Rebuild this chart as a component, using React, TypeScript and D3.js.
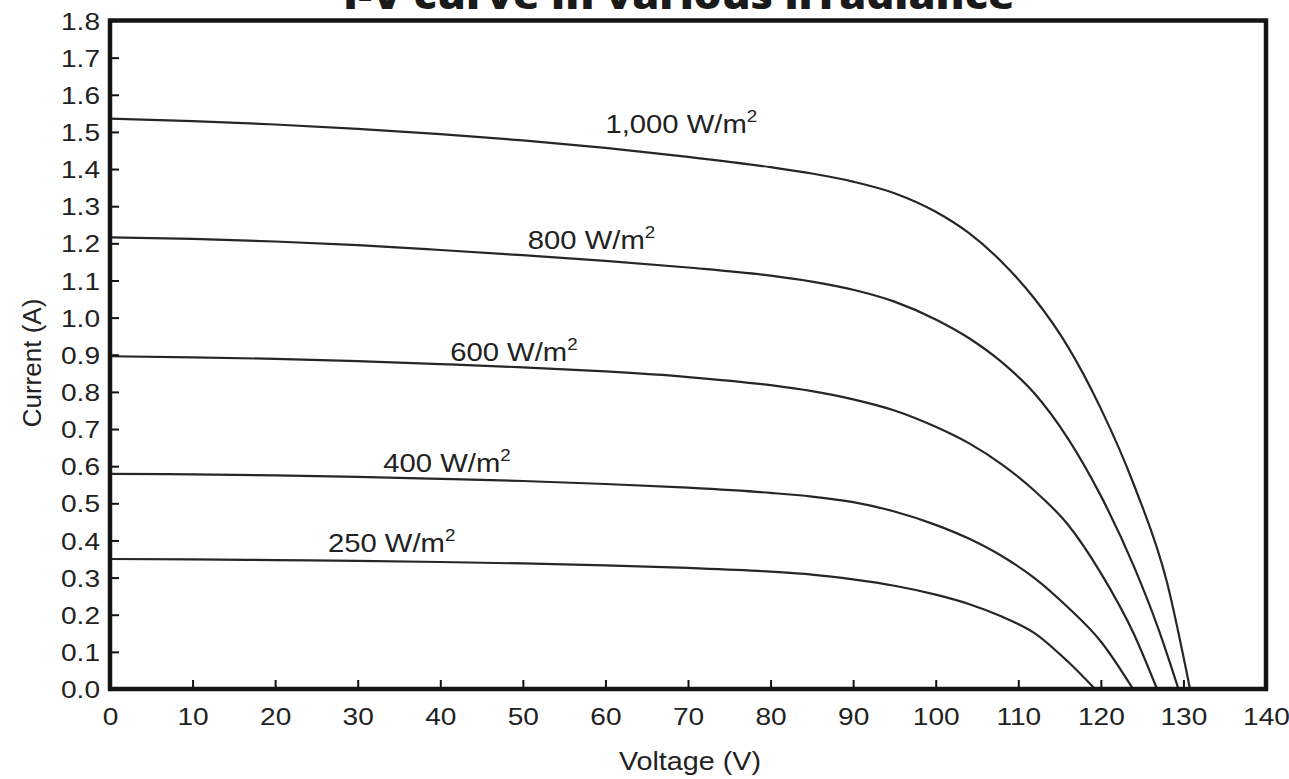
import React, { useEffect, useRef } from "react";
import {
  select,
  scaleLinear,
  axisBottom,
  axisLeft,
  line,
  curveMonotoneX,
  format,
} from "d3";

// tick values
const voltageTicks = [0, 10, 20, 30, 40, 50, 60, 70, 80, 90, 100, 110, 120, 130, 140];
const currentTicks = [0, 0.1, 0.2, 0.3, 0.4, 0.5, 0.6, 0.7, 0.8, 0.9, 1.0, 1.1, 1.2, 1.3, 1.4, 1.5, 1.6, 1.7, 1.8];

// I-V points [voltage, current]
const curve1000: [number, number][] = [
  [0, 1.536], [10, 1.529], [20, 1.52], [30, 1.508], [40, 1.494], [50, 1.477],
  [60, 1.457], [70, 1.433], [80, 1.405], [85, 1.388], [90, 1.366],
  [95, 1.335], [100, 1.285], [104, 1.228], [108, 1.15], [112, 1.05],
  [116, 0.922], [120, 0.755], [124, 0.55], [128, 0.288], [130.8, 0],
];
const curve800: [number, number][] = [
  [0, 1.216], [10, 1.212], [20, 1.205], [30, 1.195], [40, 1.182], [50, 1.168],
  [60, 1.153], [70, 1.135], [80, 1.113], [85, 1.097], [90, 1.075],
  [95, 1.043], [100, 0.995], [104, 0.945], [108, 0.88], [112, 0.795],
  [116, 0.675], [120, 0.52], [124, 0.33], [127, 0.16], [129.4, 0],
];
const curve600: [number, number][] = [
  [0, 0.896], [10, 0.893], [20, 0.889], [30, 0.883], [40, 0.875], [50, 0.866],
  [60, 0.855], [70, 0.84], [80, 0.818], [85, 0.802], [90, 0.78],
  [95, 0.75], [100, 0.706], [104, 0.662], [108, 0.605], [112, 0.533],
  [116, 0.443], [120, 0.312], [124, 0.148], [126.8, 0],
];
const curve400: [number, number][] = [
  [0, 0.579], [10, 0.578], [20, 0.575], [30, 0.571], [40, 0.566], [50, 0.56],
  [60, 0.552], [70, 0.542], [80, 0.528], [85, 0.518], [90, 0.503],
  [95, 0.478], [100, 0.442], [104, 0.405], [108, 0.358], [112, 0.298],
  [116, 0.22], [120, 0.128], [123.9, 0],
];
const curve250: [number, number][] = [
  [0, 0.35], [10, 0.349], [20, 0.347], [30, 0.345], [40, 0.342], [50, 0.338],
  [60, 0.333], [70, 0.326], [80, 0.316], [85, 0.308], [90, 0.295],
  [95, 0.278], [100, 0.254], [104, 0.229], [108, 0.195], [112, 0.15],
  [116, 0.074], [119.3, 0],
];

const curves = [curve1000, curve800, curve600, curve400, curve250];
const irradianceLabels = ["1,000", "800", "600", "400", "250"];
// where each label starts, in [voltage, current]
const labelAnchors: [number, number][] = [
  [60, 1.496], [50.6, 1.186], [41.2, 0.884], [33.1, 0.585], [26.4, 0.369],
];

const WIDTH = 1289;
const HEIGHT = 779;
const FONT = "'Liberation Sans', Arial, sans-serif";
const SX = 1.17; // the source text is a bit wide

const App: React.FC = () => {
  const svgRef = useRef<SVGSVGElement>(null);

  useEffect(() => {
    const svg = select(svgRef.current);
    svg.selectAll("*").remove();

    const x = scaleLinear().domain([0, 140]).range([110, 1266]);
    const y = scaleLinear().domain([0, 1.8]).range([689, 20.5]);

    // title, cut off at the top like the source
    svg
      .append("text")
      .attr("x", 679)
      .attr("y", 9)
      .attr("text-anchor", "middle")
      .attr("font-family", "'Open Sans', sans-serif")
      .attr("font-weight", 800)
      .attr("font-size", 38)
      .attr("textLength", 672)
      .attr("lengthAdjust", "spacingAndGlyphs")
      .attr("fill", "#1a1a1a")
      .text("I-V curve in various irradiance");

    const gen = line<[number, number]>()
      .x((d) => x(d[0]))
      .y((d) => y(d[1]))
      .curve(curveMonotoneX);

    svg
      .append("g")
      .selectAll("path")
      .data(curves)
      .join("path")
      .attr("d", (d) => gen(d))
      .attr("fill", "none")
      .attr("stroke", "#262626")
      .attr("stroke-width", 2.2);

    // curve labels
    const labels = svg
      .append("g")
      .selectAll("text")
      .data(irradianceLabels)
      .join("text")
      .attr(
        "transform",
        (d, i) => `translate(${x(labelAnchors[i][0])},${y(labelAnchors[i][1])}) scale(${SX},1)`
      )
      .attr("font-family", FONT)
      .attr("font-size", 25)
      .attr("fill", "#222");
    labels.append("tspan").text((d) => `${d} W/m`);
    labels.append("tspan").attr("dy", -11).attr("font-size", 16).text("2");

    // bottom axis
    const xAxis = svg
      .append("g")
      .attr("transform", "translate(0,689)")
      .call(axisBottom(x).tickValues(voltageTicks).tickSize(-9).tickFormat(format("d")));
    xAxis.select(".domain").remove();
    xAxis.selectAll(".tick line").attr("stroke", "#111").attr("stroke-width", 2);
    xAxis
      .selectAll(".tick text")
      .attr("y", 36)
      .attr("dy", 0)
      .attr("transform", `scale(${SX},1)`)
      .attr("font-family", FONT)
      .attr("font-size", 24)
      .attr("fill", "#222");

    // left axis
    const yAxis = svg
      .append("g")
      .attr("transform", "translate(110,0)")
      .call(axisLeft(y).tickValues(currentTicks).tickSize(-9).tickFormat(format(".1f")));
    yAxis.select(".domain").remove();
    yAxis.selectAll(".tick line").attr("stroke", "#111").attr("stroke-width", 2);
    yAxis
      .selectAll(".tick text")
      .attr("x", -10 / SX)
      .attr("dy", "0.36em")
      .attr("transform", `scale(${SX},1)`)
      .attr("font-family", FONT)
      .attr("font-size", 24)
      .attr("fill", "#222");

    // frame
    svg
      .append("rect")
      .attr("x", x(0))
      .attr("y", y(1.8))
      .attr("width", x(140) - x(0))
      .attr("height", y(0) - y(1.8))
      .attr("fill", "none")
      .attr("stroke", "#141414")
      .attr("stroke-width", 4.5);

    // axis titles
    svg
      .append("text")
      .attr("transform", `translate(690,770) scale(1.15,1)`)
      .attr("text-anchor", "middle")
      .attr("font-family", FONT)
      .attr("font-size", 25)
      .attr("fill", "#222")
      .text("Voltage (V)");
    svg
      .append("text")
      .attr("transform", `translate(41,363) rotate(-90)`)
      .attr("text-anchor", "middle")
      .attr("font-family", FONT)
      .attr("font-size", 26)
      .attr("fill", "#222")
      .text("Current (A)");
  }, []);

  return (
    <svg
      ref={svgRef}
      width={WIDTH}
      height={HEIGHT}
      style={{ position: "absolute", left: 0, top: 0, background: "white" }}
    />
  );
};

export default App;
